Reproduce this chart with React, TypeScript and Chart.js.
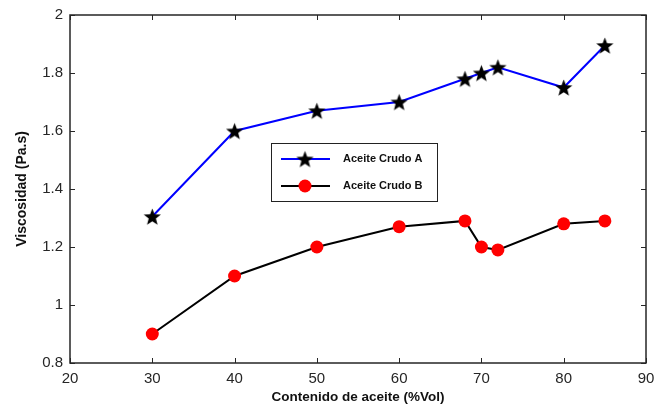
import React, { useEffect, useRef } from "react";
import { Chart, registerables } from "chart.js";

Chart.register(...registerables);

const contenido = [30, 40, 50, 60, 68, 70, 72, 80, 85];
const crudoA = [1.305, 1.6, 1.67, 1.7, 1.78, 1.8, 1.82, 1.75, 1.895];
const crudoB = [0.9, 1.1, 1.2, 1.27, 1.29, 1.2, 1.19, 1.28, 1.29];
const xTicks = [20, 30, 40, 50, 60, 70, 80, 90];
const yTicks = [0.8, 1, 1.2, 1.4, 1.6, 1.8, 2];
const seriesNames = ["Aceite Crudo A", "Aceite Crudo B"];

const FONT = "'Liberation Sans', Arial, sans-serif";

function makeStar(size: number): HTMLCanvasElement {
  const c = document.createElement("canvas");
  c.width = size;
  c.height = size;
  const ctx = c.getContext("2d")!;
  const cx = size / 2;
  const cy = size / 2 + 0.9;
  const R = size / 2 - 0.5;
  const r = R * 0.42;
  ctx.beginPath();
  for (let i = 0; i < 10; i++) {
    const ang = -Math.PI / 2 + (i * Math.PI) / 5;
    const rad = i % 2 === 0 ? R : r;
    const x = cx + rad * Math.cos(ang);
    const y = cy + rad * Math.sin(ang);
    if (i === 0) ctx.moveTo(x, y);
    else ctx.lineTo(x, y);
  }
  ctx.closePath();
  ctx.fillStyle = "#000";
  ctx.fill();
  return c;
}

const framePlugin = {
  id: "frame",
  afterDatasetsDraw(chart: any) {
    const { ctx, chartArea: a, scales } = chart;
    ctx.save();
    ctx.strokeStyle = "#262626";
    ctx.lineWidth = 1;
    const tl = 5;
    ctx.beginPath();
    for (const v of xTicks) {
      const x = Math.round(scales.x.getPixelForValue(v)) + 0.5;
      ctx.moveTo(x, a.bottom);
      ctx.lineTo(x, a.bottom - tl);
      ctx.moveTo(x, a.top);
      ctx.lineTo(x, a.top + tl);
    }
    for (const v of yTicks) {
      const y = Math.round(scales.y.getPixelForValue(v)) + 0.5;
      ctx.moveTo(a.left, y);
      ctx.lineTo(a.left + tl, y);
      ctx.moveTo(a.right, y);
      ctx.lineTo(a.right - tl, y);
    }
    ctx.stroke();
    ctx.lineWidth = 1.5;
    ctx.strokeRect(a.left, a.top, a.right - a.left, a.bottom - a.top);
    ctx.restore();
  },
  afterDraw(chart: any) {
    const { ctx } = chart;
    const bx = 271, by = 143, bw = 166, bh = 58;
    ctx.save();
    ctx.fillStyle = "#fff";
    ctx.fillRect(bx, by, bw, bh);
    ctx.strokeStyle = "#222";
    ctx.lineWidth = 1;
    ctx.strokeRect(bx + 0.5, by + 0.5, bw, bh);
    const rows = [159, 186];
    chart.data.datasets.forEach((ds: any, i: number) => {
      const y = rows[i];
      ctx.strokeStyle = ds.borderColor;
      ctx.lineWidth = ds.borderWidth;
      ctx.beginPath();
      ctx.moveTo(281, y);
      ctx.lineTo(330, y);
      ctx.stroke();
      if (ds.pointStyle instanceof HTMLCanvasElement) {
        const img = ds.pointStyle;
        ctx.drawImage(img, 305 - img.width / 2, y - img.height / 2);
      } else {
        ctx.fillStyle = ds.pointBackgroundColor;
        ctx.beginPath();
        ctx.arc(305, y, ds.pointRadius, 0, Math.PI * 2);
        ctx.fill();
      }
      ctx.fillStyle = "#111";
      ctx.font = `bold 11px ${FONT}`;
      ctx.textBaseline = "middle";
      ctx.textAlign = "left";
      ctx.fillText(ds.label, 343, y);
    });
    ctx.restore();
  },
};

export default function App() {
  const ref = useRef<HTMLCanvasElement | null>(null);
  useEffect(() => {
    document.body.style.margin = "0";
    const star = makeStar(19);
    const chart = new Chart(ref.current!, {
      type: "line",
      data: {
        datasets: [
          {
            label: seriesNames[0],
            data: contenido.map((x, i) => ({ x, y: crudoA[i] })),
            borderColor: "#0000ff",
            borderWidth: 2,
            pointStyle: star as any,
            pointRadius: 9,
            pointHoverRadius: 9,
          },
          {
            label: seriesNames[1],
            data: contenido.map((x, i) => ({ x, y: crudoB[i] })),
            borderColor: "#000000",
            borderWidth: 2,
            pointStyle: "circle",
            pointRadius: 6.5,
            pointHoverRadius: 6.5,
            pointBackgroundColor: "#ff0000",
            pointBorderColor: "#ff0000",
            pointBorderWidth: 0,
          },
        ],
      },
      options: {
        responsive: false,
        animation: false,
        layout: { padding: { top: 15, right: 9, left: 0, bottom: 0 } },
        plugins: { legend: { display: false }, tooltip: { enabled: false } },
        scales: {
          x: {
            type: "linear",
            min: 20,
            max: 90,
            afterFit: (s: any) => {
              s.height = 43;
              s.paddingLeft = 0;
              s.paddingRight = 0;
            },
            afterBuildTicks: (s: any) => {
              s.ticks = xTicks.map((v) => ({ value: v }));
            },
            ticks: {
              font: { family: FONT, size: 15 },
              color: "#262626",
              padding: 7,
              maxRotation: 0,
            },
            grid: { display: false, drawTicks: false },
            border: { display: false },
            title: {
              display: true,
              text: "Contenido de aceite (%Vol)",
              font: { family: FONT, size: 13.5, weight: "bold" },
              color: "#111",
              padding: { top: 0, bottom: 1 },
            },
          },
          y: {
            type: "linear",
            min: 0.8,
            max: 2,
            afterFit: (s: any) => {
              s.width = 70;
              s.paddingTop = 0;
              s.paddingBottom = 0;
            },
            afterBuildTicks: (s: any) => {
              s.ticks = yTicks.map((v) => ({ value: v }));
            },
            ticks: {
              font: { family: FONT, size: 15 },
              color: "#262626",
              padding: 7,
              callback: (v: any) => String(Math.round(Number(v) * 10) / 10),
            },
            grid: { display: false, drawTicks: false },
            border: { display: false },
            title: {
              display: true,
              text: "Viscosidad (Pa.s)",
              font: { family: FONT, size: 14, weight: "bold" },
              color: "#111",
              padding: { top: 14, bottom: 0 },
            },
          },
        },
      },
      plugins: [framePlugin],
    } as any);
    return () => chart.destroy();
  }, []);
  return (
    <div style={{ position: "absolute", left: 0, top: 0, width: 657, height: 406, background: "#fff" }}>
      <canvas ref={ref} width={657} height={406} />
    </div>
  );
}
